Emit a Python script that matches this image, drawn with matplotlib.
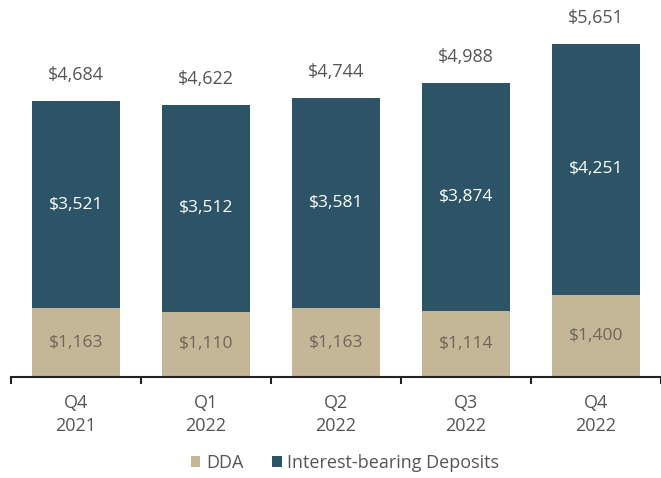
import matplotlib
matplotlib.use("Agg")
from matplotlib import pyplot as plt
import numpy as np

quarters = ["Q4\n2021", "Q1\n2022", "Q2\n2022", "Q3\n2022", "Q4\n2022"]
dda = [1163, 1110, 1163, 1114, 1400]
interest = [3521, 3512, 3581, 3874, 4251]
totals = [4684, 4622, 4744, 4988, 5651]

teal = "#2c5466"
tan = "#c4b797"
grey = "#555555"

plt.rcParams['font.family'] = ['Open Sans', 'DejaVu Sans']

fig = plt.figure(figsize=(6.61, 4.78), dpi=100)
ax = fig.add_axes([10.7 / 661, 1 - 377 / 478, (661 - 10.7) / 661, 377 / 478])

x = np.arange(len(quarters))
ax.bar(x, dda, width=0.68, color=tan, label="DDA")
ax.bar(x, interest, width=0.68, bottom=dda, color=teal, label="Interest-bearing Deposits")

for i in range(len(x)):
    ax.text(x[i], dda[i] / 2, "${:,}".format(dda[i]), ha="center", va="center",
            fontsize=12.5, color="#6e6656")
    ax.text(x[i], dda[i] + interest[i] / 2, "${:,}".format(interest[i]), ha="center",
            va="center", fontsize=12.5, color="white")
    ax.annotate("${:,}".format(totals[i]), (x[i], totals[i]), xytext=(0, 18.5),
                textcoords="offset points", ha="center", va="center",
                fontsize=13, color=grey)

ax.set_xlim(-0.5, -0.5 + (661 - 10.7) / 131.6)
ax.set_ylim(0, 6400)
for s in ["top", "right", "left"]:
    ax.spines[s].set_visible(False)
ax.spines["bottom"].set_linewidth(1.5)
ax.spines["bottom"].set_color("#222222")
ax.set_yticks([])
ax.set_xticks(x)
ax.set_xticklabels(quarters, fontsize=13, color=grey, linespacing=1.4)
ax.tick_params(axis="x", which="major", length=0, pad=12)
ax.set_xticks(np.arange(-0.5, 5, 1), minor=True)
ax.tick_params(axis="x", which="minor", length=5, width=1.5, color="#222222", direction="out")

fig.legend(loc="center", bbox_to_anchor=(345 / 661, 1 - 463 / 478), ncol=2, frameon=False,
           fontsize=13, handlelength=0.55, handleheight=0.55, handletextpad=0.3,
           columnspacing=1.6, labelcolor=grey)

fig.savefig("out.png", dpi=100)
